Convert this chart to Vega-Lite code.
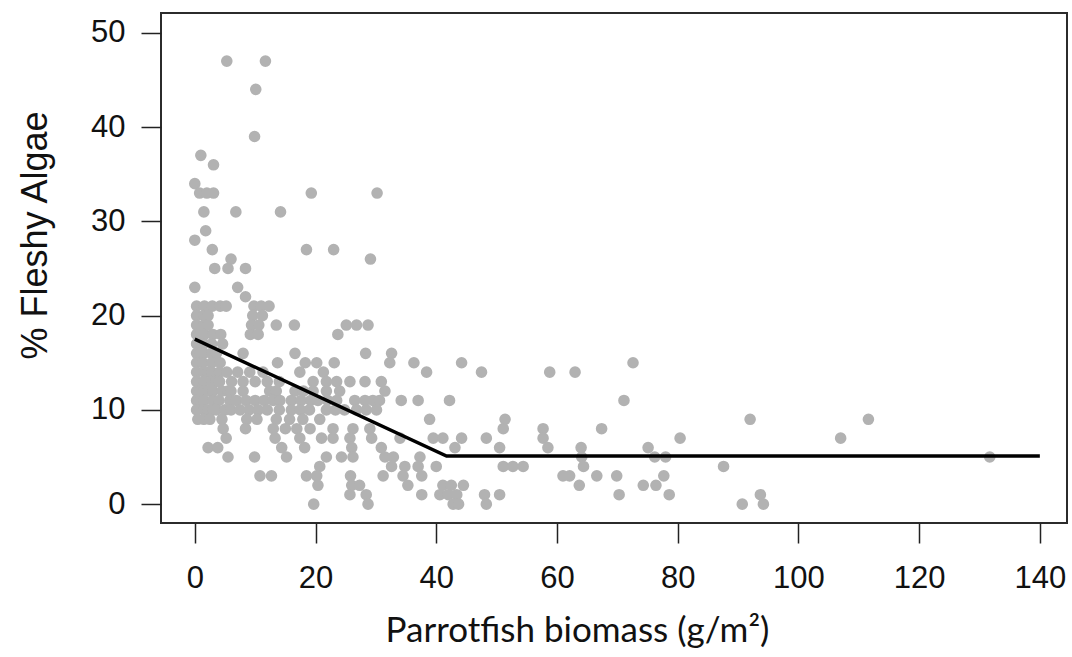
{
  "$schema": "https://vega.github.io/schema/vega-lite/v6.json",
  "width": 906,
  "height": 510,
  "autosize": {"type": "none"},
  "padding": {"left": 161, "top": 13, "right": 5, "bottom": 134},
  "background": "white",
  "config": {
    "view": {"stroke": "#2b2b2b", "strokeWidth": 2},
    "axis": {
      "grid": false,
      "domain": false,
      "tickSize": 20,
      "tickWidth": 1.5,
      "tickColor": "#222222",
      "labelFont": "Liberation Sans",
      "labelFontSize": 31,
      "labelColor": "#111111",
      "titleFontWeight": "normal",
      "titleColor": "#111111"
    }
  },
  "datasets": {
    "sites": [
      {"biomass": 5.3, "algae": 47}, {"biomass": 11.7, "algae": 47}, {"biomass": 10.1, "algae": 44}, {"biomass": 9.9, "algae": 39},
      {"biomass": 1.0, "algae": 37}, {"biomass": 3.1, "algae": 36}, {"biomass": 0.0, "algae": 34},
      {"biomass": 0.8, "algae": 33}, {"biomass": 2.0, "algae": 33}, {"biomass": 3.1, "algae": 33}, {"biomass": 19.3, "algae": 33}, {"biomass": 30.2, "algae": 33},
      {"biomass": 1.5, "algae": 31}, {"biomass": 6.8, "algae": 31}, {"biomass": 14.2, "algae": 31},
      {"biomass": 1.8, "algae": 29}, {"biomass": 0.0, "algae": 28},
      {"biomass": 2.9, "algae": 27}, {"biomass": 18.5, "algae": 27}, {"biomass": 23.0, "algae": 27},
      {"biomass": 6.0, "algae": 26}, {"biomass": 29.1, "algae": 26},
      {"biomass": 3.3, "algae": 25}, {"biomass": 5.5, "algae": 25}, {"biomass": 8.4, "algae": 25},
      {"biomass": 0.0, "algae": 23}, {"biomass": 7.1, "algae": 23}, {"biomass": 8.4, "algae": 22},
      {"biomass": 0.3, "algae": 21}, {"biomass": 1.6, "algae": 21}, {"biomass": 2.9, "algae": 21}, {"biomass": 4.2, "algae": 21}, {"biomass": 5.2, "algae": 21},
      {"biomass": 9.8, "algae": 21}, {"biomass": 11.0, "algae": 21}, {"biomass": 12.3, "algae": 21},
      {"biomass": 0.3, "algae": 20}, {"biomass": 1.5, "algae": 20}, {"biomass": 2.2, "algae": 20}, {"biomass": 9.6, "algae": 20}, {"biomass": 11.2, "algae": 20},
      {"biomass": 0.3, "algae": 19}, {"biomass": 1.5, "algae": 19}, {"biomass": 2.2, "algae": 19}, {"biomass": 9.4, "algae": 19}, {"biomass": 10.6, "algae": 19},
      {"biomass": 13.5, "algae": 19}, {"biomass": 16.5, "algae": 19}, {"biomass": 25.1, "algae": 19}, {"biomass": 26.8, "algae": 19}, {"biomass": 28.7, "algae": 19},
      {"biomass": 0.3, "algae": 18}, {"biomass": 0.9, "algae": 18}, {"biomass": 1.6, "algae": 18}, {"biomass": 3.0, "algae": 18}, {"biomass": 4.3, "algae": 18},
      {"biomass": 9.2, "algae": 18}, {"biomass": 10.5, "algae": 18}, {"biomass": 23.7, "algae": 18},
      {"biomass": 0.3, "algae": 17}, {"biomass": 1.5, "algae": 17}, {"biomass": 2.8, "algae": 17}, {"biomass": 4.6, "algae": 17},
      {"biomass": 0.3, "algae": 16}, {"biomass": 0.9, "algae": 16}, {"biomass": 1.5, "algae": 16}, {"biomass": 2.8, "algae": 16}, {"biomass": 3.6, "algae": 16}, {"biomass": 8.0, "algae": 16},
      {"biomass": 16.6, "algae": 16}, {"biomass": 28.3, "algae": 16}, {"biomass": 32.6, "algae": 16},
      {"biomass": 0.3, "algae": 15}, {"biomass": 1.3, "algae": 15}, {"biomass": 2.8, "algae": 15}, {"biomass": 4.2, "algae": 15},
      {"biomass": 13.7, "algae": 15}, {"biomass": 18.3, "algae": 15}, {"biomass": 20.2, "algae": 15}, {"biomass": 23.1, "algae": 15},
      {"biomass": 32.3, "algae": 15}, {"biomass": 36.3, "algae": 15}, {"biomass": 44.2, "algae": 15}, {"biomass": 72.6, "algae": 15},
      {"biomass": 0.3, "algae": 14}, {"biomass": 1.5, "algae": 14}, {"biomass": 2.2, "algae": 14}, {"biomass": 2.8, "algae": 14}, {"biomass": 4.1, "algae": 14},
      {"biomass": 5.3, "algae": 14}, {"biomass": 7.1, "algae": 14}, {"biomass": 9.1, "algae": 14}, {"biomass": 11.3, "algae": 14},
      {"biomass": 17.4, "algae": 14}, {"biomass": 21.3, "algae": 14}, {"biomass": 38.4, "algae": 14}, {"biomass": 47.5, "algae": 14},
      {"biomass": 58.8, "algae": 14}, {"biomass": 63.0, "algae": 14},
      {"biomass": 0.3, "algae": 13}, {"biomass": 1.5, "algae": 13}, {"biomass": 2.8, "algae": 13}, {"biomass": 3.5, "algae": 13}, {"biomass": 4.1, "algae": 13},
      {"biomass": 6.1, "algae": 13}, {"biomass": 8.0, "algae": 13}, {"biomass": 10.0, "algae": 13}, {"biomass": 12.0, "algae": 13}, {"biomass": 14.0, "algae": 13},
      {"biomass": 19.6, "algae": 13}, {"biomass": 21.8, "algae": 13}, {"biomass": 23.5, "algae": 13},
      {"biomass": 25.7, "algae": 13}, {"biomass": 28.2, "algae": 13}, {"biomass": 30.9, "algae": 13},
      {"biomass": 0.3, "algae": 12}, {"biomass": 0.9, "algae": 12}, {"biomass": 1.5, "algae": 12}, {"biomass": 2.2, "algae": 12}, {"biomass": 3.0, "algae": 12}, {"biomass": 4.5, "algae": 12},
      {"biomass": 5.5, "algae": 12}, {"biomass": 6.0, "algae": 12}, {"biomass": 8.0, "algae": 12}, {"biomass": 12.4, "algae": 12}, {"biomass": 13.5, "algae": 12},
      {"biomass": 16.6, "algae": 12}, {"biomass": 18.0, "algae": 12}, {"biomass": 19.6, "algae": 12}, {"biomass": 21.8, "algae": 12},
      {"biomass": 24.0, "algae": 12}, {"biomass": 31.5, "algae": 12},
      {"biomass": 0.3, "algae": 11}, {"biomass": 0.9, "algae": 11}, {"biomass": 1.5, "algae": 11}, {"biomass": 3.0, "algae": 11}, {"biomass": 4.0, "algae": 11},
      {"biomass": 5.8, "algae": 11}, {"biomass": 6.9, "algae": 11}, {"biomass": 8.5, "algae": 11}, {"biomass": 10.0, "algae": 11}, {"biomass": 11.5, "algae": 11},
      {"biomass": 13.0, "algae": 11}, {"biomass": 14.1, "algae": 11}, {"biomass": 16.0, "algae": 11}, {"biomass": 17.6, "algae": 11},
      {"biomass": 19.2, "algae": 11}, {"biomass": 20.4, "algae": 11}, {"biomass": 22.0, "algae": 11}, {"biomass": 23.5, "algae": 11},
      {"biomass": 26.5, "algae": 11}, {"biomass": 28.2, "algae": 11}, {"biomass": 29.5, "algae": 11}, {"biomass": 30.6, "algae": 11},
      {"biomass": 34.2, "algae": 11}, {"biomass": 37.0, "algae": 11}, {"biomass": 42.2, "algae": 11}, {"biomass": 71.1, "algae": 11},
      {"biomass": 0.3, "algae": 10}, {"biomass": 1.5, "algae": 10}, {"biomass": 2.2, "algae": 10}, {"biomass": 3.0, "algae": 10}, {"biomass": 3.6, "algae": 10}, {"biomass": 5.0, "algae": 10},
      {"biomass": 6.0, "algae": 10}, {"biomass": 7.5, "algae": 10}, {"biomass": 9.0, "algae": 10}, {"biomass": 10.5, "algae": 10},
      {"biomass": 12.0, "algae": 10}, {"biomass": 14.0, "algae": 10}, {"biomass": 16.0, "algae": 10}, {"biomass": 17.5, "algae": 10},
      {"biomass": 19.0, "algae": 10}, {"biomass": 21.8, "algae": 10}, {"biomass": 23.3, "algae": 10}, {"biomass": 24.8, "algae": 10},
      {"biomass": 26.8, "algae": 10}, {"biomass": 28.4, "algae": 10}, {"biomass": 30.1, "algae": 10},
      {"biomass": 0.5, "algae": 9}, {"biomass": 1.5, "algae": 9}, {"biomass": 2.5, "algae": 9}, {"biomass": 4.5, "algae": 9},
      {"biomass": 8.6, "algae": 9}, {"biomass": 10.3, "algae": 9}, {"biomass": 13.5, "algae": 9}, {"biomass": 15.7, "algae": 9},
      {"biomass": 17.9, "algae": 9}, {"biomass": 20.7, "algae": 9}, {"biomass": 38.9, "algae": 9}, {"biomass": 51.4, "algae": 9},
      {"biomass": 92.0, "algae": 9}, {"biomass": 111.6, "algae": 9},
      {"biomass": 4.7, "algae": 8}, {"biomass": 8.4, "algae": 8}, {"biomass": 13.0, "algae": 8}, {"biomass": 15.0, "algae": 8},
      {"biomass": 16.9, "algae": 8}, {"biomass": 19.1, "algae": 8}, {"biomass": 22.9, "algae": 8}, {"biomass": 26.2, "algae": 8},
      {"biomass": 29.0, "algae": 8}, {"biomass": 51.1, "algae": 8}, {"biomass": 57.7, "algae": 8}, {"biomass": 67.4, "algae": 8},
      {"biomass": 5.2, "algae": 7}, {"biomass": 13.3, "algae": 7}, {"biomass": 17.4, "algae": 7}, {"biomass": 21.0, "algae": 7},
      {"biomass": 22.9, "algae": 7}, {"biomass": 25.7, "algae": 7}, {"biomass": 29.3, "algae": 7}, {"biomass": 34.0, "algae": 7},
      {"biomass": 39.5, "algae": 7}, {"biomass": 41.1, "algae": 7}, {"biomass": 44.2, "algae": 7}, {"biomass": 48.3, "algae": 7},
      {"biomass": 57.7, "algae": 7}, {"biomass": 80.4, "algae": 7}, {"biomass": 107.0, "algae": 7},
      {"biomass": 2.2, "algae": 6}, {"biomass": 3.8, "algae": 6}, {"biomass": 14.4, "algae": 6}, {"biomass": 18.2, "algae": 6},
      {"biomass": 26.0, "algae": 6}, {"biomass": 30.9, "algae": 6}, {"biomass": 43.1, "algae": 6}, {"biomass": 50.5, "algae": 6},
      {"biomass": 58.5, "algae": 6}, {"biomass": 64.0, "algae": 6}, {"biomass": 75.1, "algae": 6},
      {"biomass": 5.5, "algae": 5}, {"biomass": 9.9, "algae": 5}, {"biomass": 15.2, "algae": 5}, {"biomass": 21.8, "algae": 5},
      {"biomass": 24.3, "algae": 5}, {"biomass": 26.2, "algae": 5}, {"biomass": 31.5, "algae": 5}, {"biomass": 32.9, "algae": 5},
      {"biomass": 37.3, "algae": 5}, {"biomass": 64.1, "algae": 5}, {"biomass": 76.2, "algae": 5}, {"biomass": 78.0, "algae": 5},
      {"biomass": 131.7, "algae": 5},
      {"biomass": 20.7, "algae": 4}, {"biomass": 32.6, "algae": 4}, {"biomass": 34.8, "algae": 4}, {"biomass": 37.0, "algae": 4},
      {"biomass": 40.0, "algae": 4}, {"biomass": 51.1, "algae": 4}, {"biomass": 52.7, "algae": 4}, {"biomass": 54.4, "algae": 4},
      {"biomass": 64.4, "algae": 4}, {"biomass": 87.6, "algae": 4},
      {"biomass": 10.8, "algae": 3}, {"biomass": 12.7, "algae": 3}, {"biomass": 18.5, "algae": 3}, {"biomass": 20.2, "algae": 3},
      {"biomass": 25.8, "algae": 3}, {"biomass": 31.2, "algae": 3}, {"biomass": 34.5, "algae": 3}, {"biomass": 37.6, "algae": 3},
      {"biomass": 61.0, "algae": 3}, {"biomass": 62.1, "algae": 3}, {"biomass": 66.6, "algae": 3}, {"biomass": 69.9, "algae": 3},
      {"biomass": 77.7, "algae": 3},
      {"biomass": 20.4, "algae": 2}, {"biomass": 26.0, "algae": 2}, {"biomass": 27.3, "algae": 2}, {"biomass": 35.3, "algae": 2},
      {"biomass": 41.1, "algae": 2}, {"biomass": 42.5, "algae": 2}, {"biomass": 44.5, "algae": 2}, {"biomass": 63.7, "algae": 2},
      {"biomass": 74.3, "algae": 2}, {"biomass": 76.4, "algae": 2},
      {"biomass": 25.7, "algae": 1}, {"biomass": 28.4, "algae": 1}, {"biomass": 37.6, "algae": 1}, {"biomass": 40.6, "algae": 1},
      {"biomass": 42.0, "algae": 1}, {"biomass": 43.4, "algae": 1}, {"biomass": 48.0, "algae": 1}, {"biomass": 50.5, "algae": 1},
      {"biomass": 70.3, "algae": 1}, {"biomass": 78.6, "algae": 1}, {"biomass": 93.7, "algae": 1},
      {"biomass": 19.7, "algae": 0}, {"biomass": 28.7, "algae": 0}, {"biomass": 42.8, "algae": 0}, {"biomass": 43.7, "algae": 0},
      {"biomass": 48.3, "algae": 0}, {"biomass": 90.7, "algae": 0}, {"biomass": 94.2, "algae": 0}
    ],
    "fit": [
      {"biomass": 0, "algae": 17.5},
      {"biomass": 41.7, "algae": 5.1},
      {"biomass": 140, "algae": 5.1}
    ]
  },
  "layer": [
    {
      "data": {"name": "sites"},
      "mark": {"type": "circle", "size": 135, "color": "#b2b2b2", "opacity": 1},
      "encoding": {
        "x": {
          "field": "biomass",
          "type": "quantitative",
          "scale": {"domain": [-5.6, 144.5], "nice": false, "zero": false},
          "axis": {
            "values": [0, 20, 40, 60, 80, 100, 120, 140],
            "labelPadding": 20,
            "title": "Parrotfish biomass (g/m²)",
            "titleFont": "Lato",
            "titleFontSize": 35,
            "titleAlign": "center",
            "titleBaseline": "alphabetic",
            "titleX": 416,
            "titleY": 118
          }
        },
        "y": {
          "field": "algae",
          "type": "quantitative",
          "scale": {"domain": [-2.0, 52.1], "nice": false, "zero": false},
          "axis": {
            "values": [0, 10, 20, 30, 40, 50],
            "labelAngle": 0,
            "labelPadding": 16,
            "title": "% Fleshy Algae",
            "titleFont": "Liberation Sans",
            "titleFontSize": 36,
            "titleAngle": -90,
            "titleAlign": "center",
            "titleBaseline": "alphabetic",
            "titleX": -115,
            "titleY": 222
          }
        }
      }
    },
    {
      "data": {"name": "fit"},
      "mark": {"type": "line", "color": "#000000", "strokeWidth": 3.5},
      "encoding": {
        "x": {"field": "biomass", "type": "quantitative"},
        "y": {"field": "algae", "type": "quantitative"}
      }
    }
  ]
}
